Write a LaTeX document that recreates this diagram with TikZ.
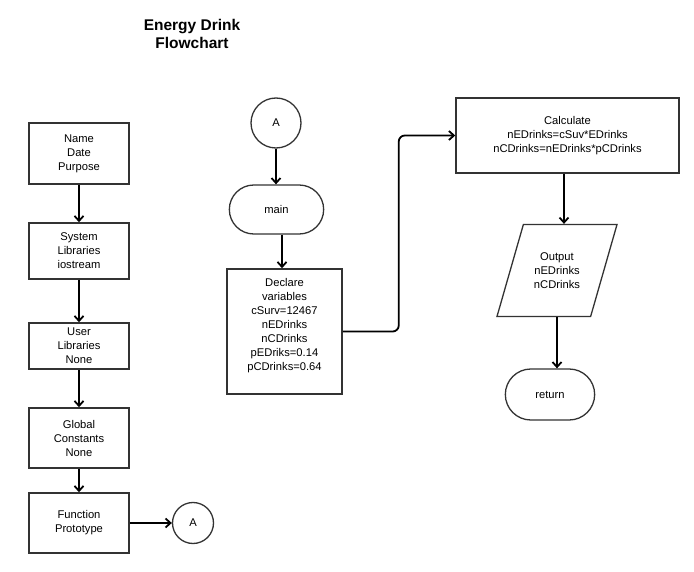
\documentclass[tikz,border=0pt]{standalone}
\usepackage{fontspec}
\setmainfont{Liberation Sans}
\usetikzlibrary{shapes.geometric,shapes.misc,arrows.meta}
\tikzset{
  block/.style={draw=black!80, line width=1.5pt, align=center, minimum width=100pt, inner sep=2pt},
  term/.style={draw=black!80, line width=1.3pt, rounded rectangle, minimum width=100pt, minimum height=49pt},
  conn/.style={draw=black!80, line width=1.3pt, circle, inner sep=0pt},
  iobox/.style={draw=black!80, line width=1.3pt, trapezium, trapezium left angle=74, trapezium right angle=106,
    trapezium stretches body=true, minimum width=120pt, inner xsep=0pt, inner ysep=28pt, align=center},
  flow/.style={-{Straight Barb[length=5pt,width=9pt]}, line width=1.8pt}
}
\begin{document}
\begin{tikzpicture}[x=1pt,y=-1pt,font=\fontsize{11.2}{14}\selectfont]
      \useasboundingbox (0,0) rectangle (694,572);
      \node [align=center, font=\bfseries\fontsize{15.5}{18}\selectfont] (title) at (192,34) {Energy Drink\\Flowchart};
      \node [block, minimum height=61pt] (intro) at (79,153.5) {Name\\Date\\Purpose};
      \node [block, minimum height=56pt] (syslib) at (79,251) {System\\Libraries\\iostream};
      \node [block, minimum height=46pt] (userlib) at (79,346) {User\\Libraries\\None};
      \node [block, minimum height=60pt] (globconst) at (79,438) {Global\\Constants\\None};
      \node [block, minimum height=60pt] (proto) at (79,523) {Function\\Prototype};
      \node [conn, minimum size=41pt] (conA) at (193,523) {A};
      \node [conn, minimum size=50pt] (conB) at (276,123) {A};
      \node [term, minimum width=101pt] (mainterm) at (276.5,209.5) {main};
      \node [block, minimum width=115pt, minimum height=125pt, text depth=14pt] (declare) at (284.5,331.5)
        {Declare\\variables\\cSurv=12467\\nEDrinks\\nCDrinks\\pEDriks=0.14\\pCDrinks=0.64};
      \node [block, minimum width=223pt, minimum height=75pt] (calc) at (567.5,135.5)
        {Calculate\\nEDrinks=cSuv*EDrinks\\nCDrinks=nEDrinks*pCDrinks};
      \node [iobox] (output) at (557,270.5) {Output\\nEDrinks\\nCDrinks};
      \node [term, minimum width=96pt, minimum height=51pt] (ret) at (550,394.5) {return};
      \draw [flow] (intro) -- (syslib);
      \draw [flow] (syslib) -- (userlib);
      \draw [flow] (userlib) -- (globconst);
      \draw [flow] (globconst) -- (proto);
      \draw [flow] (proto) -- (conA);
      \draw [flow] (conB) -- (conB |- mainterm.north);
      \draw [flow] ([xshift=5.5pt]mainterm.south) -- ([xshift=5.5pt]mainterm.south |- declare.north);
      \draw [flow, rounded corners=6pt] (declare.east) -- ++(56,0) |- (calc.west);
      \draw [flow] ([xshift=-3.5pt]calc.south) -- ([xshift=-3.5pt]calc.south |- output.north);
      \draw [flow] (output.south) -- (output.south |- ret.north);
    \end{tikzpicture}
\end{document}
